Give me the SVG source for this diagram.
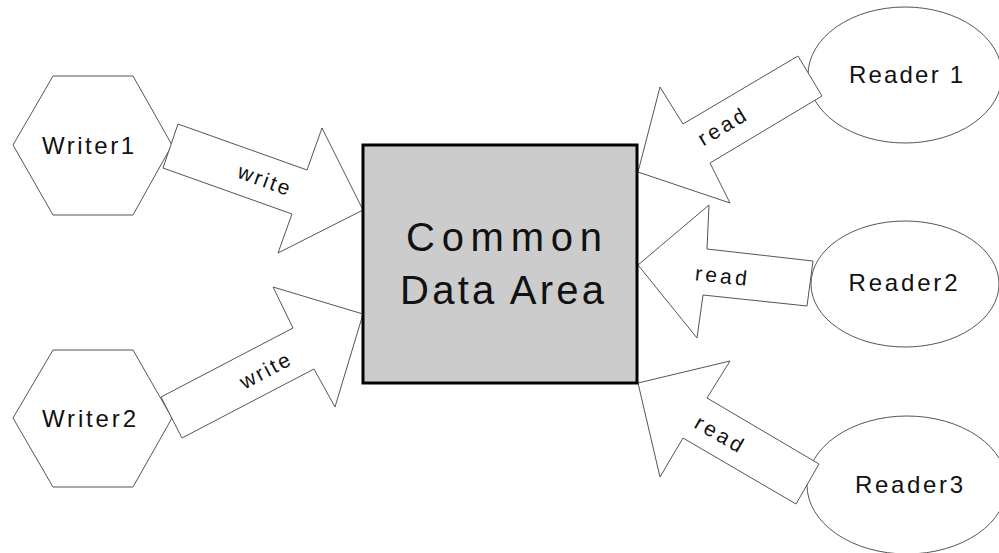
<svg xmlns="http://www.w3.org/2000/svg" width="999" height="553" viewBox="0 0 999 553">
<style>
.shape{fill:#ffffff;stroke:#555555;stroke-width:1}
.arrow{fill:#ffffff;stroke:#555555;stroke-width:1}
.box{fill:#cccccc;stroke:#000000;stroke-width:3}
.lbl{font-family:"Liberation Sans",Arial,sans-serif;font-size:24px;fill:#111111;text-anchor:middle}
.alb{font-family:"Liberation Sans",Arial,sans-serif;font-size:21px;fill:#111111;text-anchor:middle}
.big{font-family:"Liberation Sans",Arial,sans-serif;font-size:40px;fill:#111111;text-anchor:middle}
</style>
<rect x="0" y="0" width="999" height="553" fill="#ffffff"/>
<g id="writer1">
<polygon class="shape" points="53,76 133,76 172,145 133,215 53,215 13,145"/>
<text class="lbl" x="88" y="154" textLength="92" lengthAdjust="spacing">Writer1</text>
</g>
<g id="writer2">
<polygon class="shape" points="53,350 133,350 172,418 133,487 53,487 13,418"/>
<text class="lbl" x="89" y="427" textLength="94" lengthAdjust="spacing">Writer2</text>
</g>
<g id="reader1">
<ellipse class="shape" cx="905" cy="75" rx="97" ry="68"/>
<text class="lbl" x="906" y="83" textLength="114" lengthAdjust="spacing">Reader 1</text>
</g>
<g id="reader2">
<ellipse class="shape" cx="905" cy="284" rx="94" ry="63"/>
<text class="lbl" x="903" y="291" textLength="109" lengthAdjust="spacing">Reader2</text>
</g>
<g id="reader3">
<ellipse class="shape" cx="907" cy="485" rx="100" ry="69"/>
<text class="lbl" x="909" y="493" textLength="108" lengthAdjust="spacing">Reader3</text>
</g>
<g id="connectors">
<polygon class="arrow" points="178,124 307,170 322,128 363,210 278,253 292,214 163,168"/>
<text class="alb" transform="translate(264,180) rotate(20)" x="0" y="7" textLength="54" lengthAdjust="spacing">write</text>
<polygon class="arrow" points="161,397 293,328 273,287 363,314 335,407 314,369 182,438"/>
<text class="alb" transform="translate(265,371) rotate(-28)" x="0" y="7" textLength="54" lengthAdjust="spacing">write</text>
<polygon class="arrow" points="798,56 683,124 660,87 638,172 730,203 710,163 822,96"/>
<text class="alb" transform="translate(722,127) rotate(-31)" x="0" y="7" textLength="52" lengthAdjust="spacing">read</text>
<polygon class="arrow" points="638,265 709,205 707,249 813,261 807,306 703,295 697,338"/>
<text class="alb" transform="translate(721,276) rotate(6)" x="0" y="7" textLength="52" lengthAdjust="spacing">read</text>
<polygon class="arrow" points="638,383 730,361 707,398 819,464 796,504 683,438 660,477"/>
<text class="alb" transform="translate(719,434) rotate(30)" x="0" y="7" textLength="52" lengthAdjust="spacing">read</text>
</g>
<g id="common-data-area">
<rect class="box" x="363" y="145" width="274" height="238"/>
<text class="big" x="504" y="251" textLength="196" lengthAdjust="spacing">Common</text>
<text class="big" x="502" y="304" textLength="204" lengthAdjust="spacing">Data Area</text>
</g>
</svg>
